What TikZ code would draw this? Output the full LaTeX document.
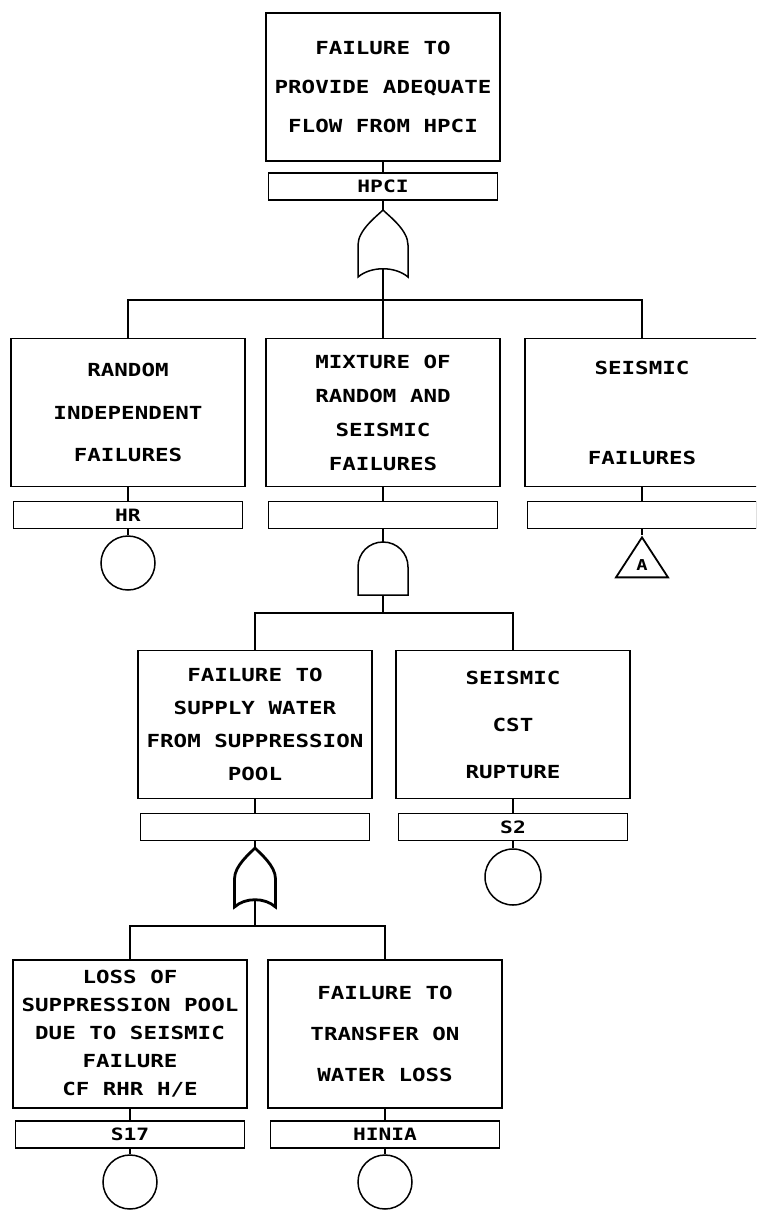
\documentclass[tikz,border=0pt]{standalone}
\usepackage{fontspec}
\newfontfamily\plotfont[FakeStretch=1.25]{DejaVu Sans Mono}
\usetikzlibrary{shapes.geometric}

\tikzset{
  event/.style={draw, line width=1.8pt, minimum width=234pt, minimum height=148pt, align=center, inner sep=0pt},
  tag/.style={draw, line width=1.8pt, minimum width=229pt, minimum height=27pt, inner sep=0pt, font=\plotfont\bfseries\fontsize{17}{17}\selectfont},
  lsp/.style={font=\plotfont\bfseries\fontsize{18}{#1}\selectfont},
  basic/.style={draw, circle, line width=1.5pt, minimum size=54pt, inner sep=0pt},
  xfer/.style={draw, isosceles triangle, shape border rotate=90, isosceles triangle stretches, minimum height=40pt, minimum width=52pt, inner sep=0pt, line width=1.8pt, font=\plotfont\bfseries\fontsize{15}{15}\selectfont},
  link/.style={line width=1.2pt},
  orgate/.pic={
    \draw (0,0) .. controls (6,6) and (25,20) .. (25,35) -- (25,67)
      .. controls (12,56) and (-12,56) .. (-25,67) -- (-25,35)
      .. controls (-25,20) and (-6,6) .. cycle;
    \coordinate (-in) at (0,0);
    \coordinate (-out) at (0,59);
  },
  andgate/.pic={
    \draw (-25,53) -- (-25,25) .. controls (-25,11) and (-14,0) .. (0,0)
      .. controls (14,0) and (25,11) .. (25,25) -- (25,53) -- cycle;
    \coordinate (-in) at (0,0);
    \coordinate (-out) at (0,53);
  }
}

\begin{document}
\begin{tikzpicture}[x=1pt, y=-1pt]
    \useasboundingbox (0,0) rectangle (756,1211);
    \clip (0,0) rectangle (756,1211);

    % Top event
    \node[event, lsp=39] (top) at (383,87) {FAILURE TO\\PROVIDE ADEQUATE\\FLOW FROM HPCI};
    \node[tag] (tHPCI) at (383,186.5) {HPCI};
    \pic[line width=1.5pt] (g1) at (383,210) {orgate};
    \draw[link] (top.south) -- (tHPCI.north);
    \draw[link] (tHPCI.south) -- (g1-in);

    % Second level
    \node[event, lsp=42.5] (r1) at (128,412.5) {RANDOM\\INDEPENDENT\\FAILURES};
    \node[event, lsp=34] (m1) at (383,412.5) {MIXTURE OF\\RANDOM AND\\SEISMIC\\FAILURES};
    \node[event, lsp=45] (s1) at (642,412.5) {SEISMIC\\[45pt]FAILURES};
    \coordinate (j1) at (383,300);
    \draw[link] (g1-out) -- (j1);
    \draw[link] (r1.north) |- (j1) -| (s1.north);
    \draw[link] (j1) -- (m1.north);

    \node[tag] (tHR) at (128,515) {HR};
    \node[tag] (tM) at (383,515) {};
    \node[tag] (tS) at (642,515) {};
    \draw[link] (r1.south) -- (tHR.north);
    \draw[link] (m1.south) -- (tM.north);
    \draw[link] (s1.south) -- (tS.north);

    \node[basic] (cHR) at (128,563) {};
    \pic[line width=1.5pt] (g2) at (383,542) {andgate};
    \node[xfer, anchor=apex] (xA) at (642,535) {A};
    \draw[link] (tHR.south) -- (cHR.north);
    \draw[link] (tM.south) -- (g2-in);
    \draw[link] (tS.south) -- (xA.apex);

    % Third level
    \node[event, lsp=33] (f1) at (255,724.5) {FAILURE TO\\SUPPLY WATER\\FROM SUPPRESSION\\POOL};
    \node[event, lsp=47] (c1) at (513,724.5) {SEISMIC\\CST\\RUPTURE};
    \coordinate (j2) at (383,613);
    \draw[link] (g2-out) -- (j2);
    \draw[link] (f1.north) |- (j2) -| (c1.north);

    \node[tag] (tF) at (255,827) {};
    \node[tag] (tS2) at (513,827) {S2};
    \draw[link] (f1.south) -- (tF.north);
    \draw[link] (c1.south) -- (tS2.north);

    \pic[xscale=0.82, yscale=0.88, line width=2.8pt] (g3) at (255,848) {orgate};
    \node[basic, minimum size=56pt] (cS2) at (513,877) {};
    \draw[link] (tF.south) -- (g3-in);
    \draw[link] (tS2.south) -- (cS2.north);

    % Fourth level
    \node[event, lsp=28] (l1) at (130,1034) {LOSS OF\\SUPPRESSION POOL\\DUE TO SEISMIC\\FAILURE\\CF RHR H/E};
    \node[event, lsp=41] (w1) at (385,1034) {FAILURE TO\\TRANSFER ON\\WATER LOSS};
    \coordinate (j3) at (255,926);
    \draw[link] (g3-out) -- (j3);
    \draw[link] (l1.north) |- (j3) -| (w1.north);

    \node[tag] (tS17) at (130,1134.5) {S17};
    \node[tag] (tH) at (385,1134.5) {HINIA};
    \draw[link] (l1.south) -- (tS17.north);
    \draw[link] (w1.south) -- (tH.north);

    \node[basic] (cS17) at (130,1182) {};
    \node[basic] (cH) at (385,1182) {};
    \draw[link] (tS17.south) -- (cS17.north);
    \draw[link] (tH.south) -- (cH.north);
\end{tikzpicture}
\end{document}
